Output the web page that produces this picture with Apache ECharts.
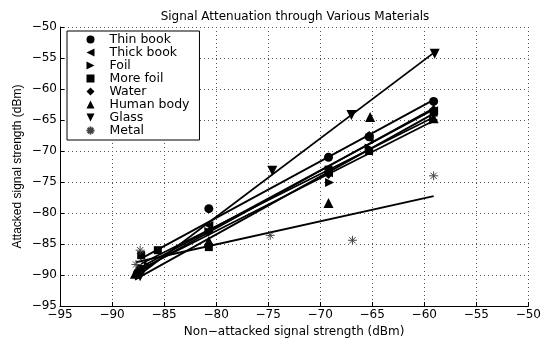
<!DOCTYPE html>
<html>
<head>
<meta charset="utf-8">
<script src="https://cdn.jsdelivr.net/npm/echarts@6/dist/echarts.min.js"></script>
<style>
html,body{margin:0;padding:0;background:#fff;}
#chart{width:544px;height:343px;}
</style>
</head>
<body>
<div id="chart"></div>
<script>
// Measured points [non-attacked dBm, attacked dBm]
var thinBook  = [[-87.3,-89.0],[-80.7,-79.3],[-69.2,-71.0],[-65.3,-67.7],[-59.1,-62.0]];
var thickBook = [[-87.6,-89.5],[-80.7,-82.0],[-69.2,-73.5],[-65.3,-68.0],[-59.1,-63.5]];
var foil      = [[-86.5,-88.5],[-80.7,-83.0],[-69.1,-75.1],[-65.3,-69.5],[-59.1,-65.0]];
var moreFoil  = [[-87.2,-86.8],[-85.6,-86.0],[-80.7,-85.5],[-69.2,-73.0],[-65.3,-70.0],[-59.1,-63.8]];
var water     = [[-87.5,-89.3],[-80.7,-83.0],[-69.2,-73.8],[-65.3,-67.5],[-59.1,-63.3]];
var humanBody = [[-87.8,-89.8],[-80.7,-84.5],[-69.2,-78.4],[-65.2,-64.5],[-59.1,-64.7]];
var glass     = [[-87.3,-90.2],[-74.6,-73.2],[-67.0,-64.2],[-59.0,-54.3]];
var metal     = [[-87.7,-88.3],[-87.3,-86.0],[-74.8,-83.6],[-66.9,-84.4],[-59.1,-74.0]];

var seriesNames = ['Thin book','Thick book','Foil','More foil','Water','Human body','Glass','Metal'];
var axisTicks = [-95,-90,-85,-80,-75,-70,-65,-60,-55,-50];

var datasets = [thinBook, thickBook, foil, moreFoil, water, humanBody, glass, metal];
var symbols = [
  'circle',
  'path://M0,5 L10,0 L10,10 Z',
  'path://M0,0 L10,5 L0,10 Z',
  'rect',
  'diamond',
  'triangle',
  'path://M0,0 L10,0 L5,10 Z',
  'path://M5,0 L5,10 M0,5 L10,5 M1.5,1.5 L8.5,8.5 M8.5,1.5 L1.5,8.5'
];
var sizes = [9, 9, 9, 8, 9, 10, 10, 9];

function fitLine(pts) {
  var n = pts.length, sx = 0, sy = 0;
  pts.forEach(function(p){ sx += p[0]; sy += p[1]; });
  var mx = sx / n, my = sy / n, sxy = 0, sxx = 0;
  pts.forEach(function(p){ sxy += (p[0]-mx)*(p[1]-my); sxx += (p[0]-mx)*(p[0]-mx); });
  var b = sxy / sxx, a = my - b * mx;
  var xs = pts.map(function(p){ return p[0]; });
  var x0 = Math.min.apply(null, xs), x1 = Math.max.apply(null, xs);
  return [[x0, a + b*x0], [x1, a + b*x1]];
}

function minus(v){ return String(v).replace('-', '\u2212'); }

var series = [];
datasets.forEach(function(d, i){
  series.push({
    type: 'line',
    name: seriesNames[i] + ' fit',
    data: fitLine(d),
    showSymbol: false,
    symbol: 'none',
    lineStyle: { color: '#000', width: 1.8 },
    z: 2,
    silent: true
  });
});
datasets.forEach(function(d, i){
  var isStar = i === 7;
  series.push({
    type: 'scatter',
    name: seriesNames[i],
    data: d,
    symbol: symbols[i],
    symbolSize: sizes[i],
    itemStyle: isStar ? { color: 'none', borderColor: '#444', borderWidth: 1, opacity: 1 } : { color: '#000', opacity: 1 },
    z: 3
  });
});

var chart = echarts.init(document.getElementById('chart'), null, {renderer: 'canvas'});
chart.setOption({
  animation: false,
  backgroundColor: '#fff',
  title: {
    text: 'Signal Attenuation through Various Materials',
    left: 290, top: 6, textAlign: 'center',
    textStyle: { fontFamily: 'DejaVu Sans', fontSize: 12, fontWeight: 'normal', color: '#000' }
  },
  grid: { left: 60, right: 4, top: 27, bottom: 30 },
  legend: {
    orient: 'vertical',
    left: 67, top: 31,
    data: seriesNames,
    padding: [2, 10, 3, 17],
    itemWidth: 8, itemHeight: 8, itemGap: 0,
    borderColor: '#000', borderWidth: 1, backgroundColor: '#fff',
    textStyle: { fontFamily: 'DejaVu Sans', fontSize: 12.5, color: '#000', padding: [0,0,0,10] },
    selectedMode: false
  },
  xAxis: {
    type: 'value', min: -95, max: -50, interval: 5,
    name: 'Non\u2212attacked signal strength (dBm)',
    nameLocation: 'middle', nameGap: 20,
    nameTextStyle: { fontFamily: 'DejaVu Sans', fontSize: 12, color: '#000' },
    axisLine: { show: true, onZero: false, lineStyle: { color: '#000', width: 1 } },
    axisTick: { show: true, inside: true, length: 4, lineStyle: { color: '#000' } },
    axisLabel: { formatter: minus, fontFamily: 'DejaVu Sans', fontSize: 12, color: '#000', margin: 3 },
    splitLine: { show: true, lineStyle: { color: '#555', type: [1, 3], width: 1 } }
  },
  yAxis: {
    type: 'value', min: -95, max: -50, interval: 5,
    name: 'Attacked signal strength (dBm)',
    nameLocation: 'middle', nameGap: 36, nameRotate: 90,
    nameMoveOverlap: false,
    nameTextStyle: { fontFamily: 'Liberation Sans', fontSize: 12, color: '#000' },
    axisLine: { show: true, onZero: false, lineStyle: { color: '#000', width: 1 } },
    axisTick: { show: true, inside: true, length: 4, lineStyle: { color: '#000' } },
    axisLabel: { formatter: minus, fontFamily: 'DejaVu Sans', fontSize: 12, color: '#000', margin: 3 },
    splitLine: { show: true, lineStyle: { color: '#555', type: [1, 3], width: 1 } }
  },
  series: series
});
</script>
</body>
</html>
